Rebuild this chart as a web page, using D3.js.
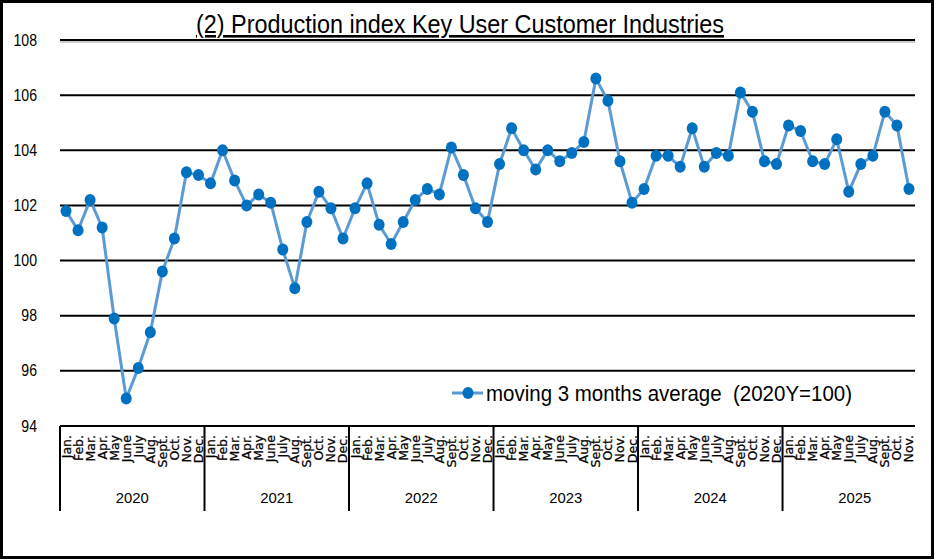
<!DOCTYPE html>
<html>
<head>
<meta charset="utf-8">
<script src="https://cdn.jsdelivr.net/npm/d3@7"></script>
<style>
  body { margin: 0; background: #fff; }
  svg { display: block; }
</style>
</head>
<body>
<div id="chart"></div>
<script>
var W = 935, H = 560;

// data
var years = ["2020", "2021", "2022", "2023", "2024", "2025"];
var monthNames = ["Jan.", "Feb.", "Mar.", "Apr.", "May", "June", "July", "Aug.", "Sept.", "Oct.", "Nov.", "Dec."];
var values2020 = [101.8, 101.1, 102.2, 101.2, 97.9, 95.0, 96.1, 97.4, 99.6, 100.8, 103.2, 103.1];
var values2021 = [102.8, 104.0, 102.9, 102.0, 102.4, 102.1, 100.4, 99.0, 101.4, 102.5, 101.9, 100.8];
var values2022 = [101.9, 102.8, 101.3, 100.6, 101.4, 102.2, 102.6, 102.4, 104.1, 103.1, 101.9, 101.4];
var values2023 = [103.5, 104.8, 104.0, 103.3, 104.0, 103.6, 103.9, 104.3, 106.6, 105.8, 103.6, 102.1];
var values2024 = [102.6, 103.8, 103.8, 103.4, 104.8, 103.4, 103.9, 103.8, 106.1, 105.4, 103.6, 103.5];
var values2025 = [104.9, 104.7, 103.6, 103.5, 104.4, 102.5, 103.5, 103.8, 105.4, 104.9, 102.6];
var yTicks = [94, 96, 98, 100, 102, 104, 106, 108];
var titleText = "(2) Production index Key User Customer Industries";
var legendText = "moving 3 months average\u00a0\u00a0(2020Y=100)";

var seriesByYear = [values2020, values2021, values2022, values2023, values2024, values2025];
var points = [];
seriesByYear.forEach(function(vals, yi) {
    vals.forEach(function(v, mi) {
        points.push({ year: years[yi], month: monthNames[mi], value: v, idx: points.length });
    });
});

var narrow = "'Liberation Sans', Arial, sans-serif";

var svg = d3.select("#chart")
    .append("svg")
    .attr("width", W)
    .attr("height", H);

// outer frame
svg.append("rect")
    .attr("x", 1.5).attr("y", 1.5)
    .attr("width", W - 4).attr("height", H - 4)
    .attr("fill", "#fff")
    .attr("stroke", "#000")
    .attr("stroke-width", 3);

var plotLeft = 60, plotRight = 915, plotTop = 40, plotBottom = 426;

var x = d3.scaleBand()
    .domain(points.map(function(d) { return d.idx; }))
    .range([plotLeft, plotRight])
    .padding(0);

var y = d3.scaleLinear()
    .domain([94, 108])
    .range([plotBottom, plotTop]);

// gridlines
svg.append("g")
    .selectAll("line")
    .data(yTicks)
    .enter()
    .append("line")
    .attr("x1", plotLeft)
    .attr("x2", plotRight)
    .attr("y1", function(d) { return y(d); })
    .attr("y2", function(d) { return y(d); })
    .attr("stroke", "#000")
    .attr("stroke-width", 2);

// faint shadow under the top line, like the reference
svg.append("line")
    .attr("x1", plotLeft).attr("x2", plotRight)
    .attr("y1", y(108) + 2).attr("y2", y(108) + 2)
    .attr("stroke", "#999")
    .attr("stroke-width", 1);

// y labels
svg.append("g")
    .selectAll("text")
    .data(yTicks)
    .enter()
    .append("text")
    .attr("x", 37)
    .attr("y", function(d) { return y(d); })
    .attr("dy", "0.35em")
    .attr("text-anchor", "end")
    .attr("font-family", narrow)
    .attr("font-size", 16)
    .attr("fill", "#000")
    .attr("transform", "translate(37,0) scale(0.88,1) translate(-37,0)")
    .text(function(d) { return d; });

// month labels (rotated)
svg.append("g")
    .selectAll("text")
    .data(points)
    .enter()
    .append("text")
    .attr("transform", function(d) {
        return "translate(" + (x(d.idx) + x.bandwidth() / 2) + "," + (plotBottom + 9) + ") rotate(-90)";
    })
    .attr("dy", "0.36em")
    .attr("text-anchor", "end")
    .attr("font-family", "'DejaVu Sans', Verdana, sans-serif")
    .attr("font-size", 12.5)
    .attr("fill", "#000")
    .attr("stroke", "#000")
    .attr("stroke-width", 0.25)
    .text(function(d) { return d.month; });

// year separators
var yearStarts = years.map(function(yr) {
    return points.filter(function(p) { return p.year === yr; })[0].idx;
});
svg.append("g")
    .selectAll("line")
    .data(yearStarts)
    .enter()
    .append("line")
    .attr("x1", function(d) { return x(d); })
    .attr("x2", function(d) { return x(d); })
    .attr("y1", plotBottom)
    .attr("y2", 511)
    .attr("stroke", "#000")
    .attr("stroke-width", 2);

// year labels
svg.append("g")
    .selectAll("text")
    .data(years)
    .enter()
    .append("text")
    .attr("x", function(yr) {
        var ps = points.filter(function(p) { return p.year === yr; });
        var start = x(ps[0].idx);
        var end = yr === "2025" ? x(ps[0].idx) + 12 * x.bandwidth() : x(ps[ps.length - 1].idx) + x.bandwidth();
        return (start + end) / 2;
    })
    .attr("y", 503)
    .attr("text-anchor", "middle")
    .attr("font-family", narrow)
    .attr("font-size", 15)
    .attr("textLength", 33)
    .attr("lengthAdjust", "spacingAndGlyphs")
    .attr("fill", "#000")
    .text(function(d) { return d; });

// line
var line = d3.line()
    .x(function(d) { return x(d.idx) + x.bandwidth() / 2; })
    .y(function(d) { return y(d.value); });

svg.append("path")
    .datum(points)
    .attr("d", line)
    .attr("fill", "none")
    .attr("stroke", "#5B9BD5")
    .attr("stroke-width", 3)
    .attr("stroke-linejoin", "round");

svg.append("g")
    .selectAll("ellipse")
    .data(points)
    .enter()
    .append("ellipse")
    .attr("cx", function(d) { return x(d.idx) + x.bandwidth() / 2; })
    .attr("cy", function(d) { return y(d.value); })
    .attr("rx", 5.5)
    .attr("ry", 6)
    .attr("fill", "#0070C0");

// title
svg.append("text")
    .attr("x", 460)
    .attr("y", 33)
    .attr("text-anchor", "middle")
    .attr("font-family", narrow)
    .attr("font-size", 26)
    .attr("textLength", 528)
    .attr("lengthAdjust", "spacingAndGlyphs")
    .attr("fill", "#000")
    .attr("text-decoration", "underline")
    .text(titleText);

// legend
var lg = svg.append("g").attr("transform", "translate(452,393)");
lg.append("line")
    .attr("x1", 0).attr("x2", 31)
    .attr("y1", 0).attr("y2", 0)
    .attr("stroke", "#5B9BD5")
    .attr("stroke-width", 3);
lg.append("ellipse")
    .attr("cx", 16).attr("cy", 0)
    .attr("rx", 5.5).attr("ry", 6)
    .attr("fill", "#0070C0");
lg.append("text")
    .attr("x", 34)
    .attr("y", 0)
    .attr("dy", "0.35em")
    .attr("font-family", narrow)
    .attr("font-size", 22)
    .attr("textLength", 366)
    .attr("lengthAdjust", "spacingAndGlyphs")
    .attr("fill", "#000")
    .text(legendText);
</script>
</body>
</html>
